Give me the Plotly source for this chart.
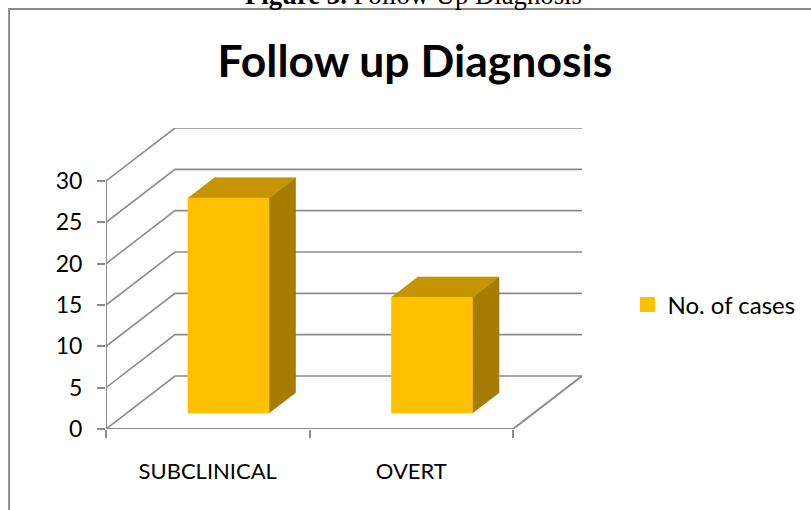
import plotly.graph_objects as go

categories = ["SUBCLINICAL", "OVERT"]
cases = [26, 14]
series_name = "No. of cases"
y_ticks = [0, 5, 10, 15, 20, 25, 30]
title = "Follow up Diagnosis"
caption = "<b>Figure 3.</b> Follow Up Diagnosis"

GRID = "#8c8c8c"
FRONT, TOP, SIDE = "#FFC000", "#C49500", "#A67C00"

# Oblique projection: depth in 0..1 shifts points right and upward on the axes
DX, DY = 0.339, 6.41
BAR_HALF = 0.199
BAR_D0, BAR_D1 = 0.30, 0.685

# plot area in page pixels
L, R, T, B = 106, 582.5, 128, 429
PW, PH = R - L, B - T


def px(x):
    return (x - L) / PW


def py(y):
    return (B - y) / PH


def proj(cat, val, depth):
    return cat + DX * depth, val + DY * depth


def poly(points, color):
    xs, ys = zip(*[proj(*p) for p in points])
    return go.Scatter(x=list(xs) + [xs[0]], y=list(ys) + [ys[0]], mode="lines", fill="toself",
                      fillcolor=color, line=dict(width=0.6, color=color), showlegend=False,
                      hoverinfo="skip", cliponaxis=False)


def seg(points, width=1.6):
    xs, ys = zip(*[proj(*p) for p in points])
    return go.Scatter(x=list(xs), y=list(ys), mode="lines", line=dict(color=GRID, width=width),
                      showlegend=False, hoverinfo="skip", cliponaxis=False)


fig = go.Figure()
n = len(categories)

for v in y_ticks:
    fig.add_trace(seg([(0, v, 0), (0, v, 1), (n, v, 1)]))
fig.add_trace(seg([(n, 0, 1), (n, 0, 0), (0, 0, 0)], 2))
fig.add_trace(seg([(0, 0, 0), (0, 30, 0)], 2))

for i, v in enumerate(cases):
    c = i + 0.5
    l, r = c - BAR_HALF, c + BAR_HALF
    fig.add_trace(poly([(r, 0, BAR_D0), (r, 0, BAR_D1), (r, v, BAR_D1), (r, v, BAR_D0)], SIDE))
    fig.add_trace(poly([(l, v, BAR_D0), (l, v, BAR_D1), (r, v, BAR_D1), (r, v, BAR_D0)], TOP))
    fig.add_trace(poly([(l, 0, BAR_D0), (r, 0, BAR_D0), (r, v, BAR_D0), (l, v, BAR_D0)], FRONT))

fig.add_trace(go.Scatter(x=[None], y=[None], mode="markers", name=series_name,
                         marker=dict(symbol="square", size=15, color=FRONT)))

fx, fy = px(9), py(9)
fig.update_layout(
    width=811, height=510, autosize=False,
    margin=dict(l=L, r=811 - R, t=T, b=510 - B, autoexpand=False),
    paper_bgcolor="white", plot_bgcolor="white",
    title=dict(text="<b>%s</b>" % title, x=415 / 811, xanchor="center", y=1 - 61 / 510, yanchor="middle",
               font=dict(family="Lato", size=44.5, color="black")),
    xaxis=dict(range=[0, n + DX], tickmode="array", tickvals=[i + 0.5 for i in range(n)], ticktext=categories,
               ticks="outside", ticklen=23, tickcolor="rgba(0,0,0,0)", showgrid=False, zeroline=False, showline=False,
               tickfont=dict(family="Lato", size=22, color="black"),
               minor=dict(tickmode="array", tickvals=list(range(n + 1)), ticks="outside", ticklen=8, tickwidth=2,
                          tickcolor=GRID, showgrid=False)),
    yaxis=dict(range=[0, 30 + DY], tickmode="array", tickvals=y_ticks, ticks="outside", ticklen=8, tickwidth=2,
               tickcolor=GRID, showgrid=False, zeroline=False, showline=False, ticklabelstandoff=10,
               tickfont=dict(family="Lato", size=23, color="black")),
    legend=dict(x=px(628), y=py(305), xanchor="left", yanchor="middle", itemsizing="trace",
                font=dict(family="Lato", size=24, color="black"), bgcolor="rgba(0,0,0,0)"),
    shapes=[dict(type="path", xref="paper", yref="paper",
                 path=f"M {fx} {py(520)} L {fx} {fy} L {px(820)} {fy}",
                 line=dict(color="#8a8a8a", width=2))],
    annotations=[dict(text=caption, xref="paper", yref="paper", x=px(414), y=py(-5), yanchor="middle",
                      xanchor="center", showarrow=False,
                      font=dict(family="Liberation Serif", size=26.7, color="black"))],
)

fig.write_html("out.html", config=dict(displayModeBar=False), post_script="document.body.style.margin='0';")
